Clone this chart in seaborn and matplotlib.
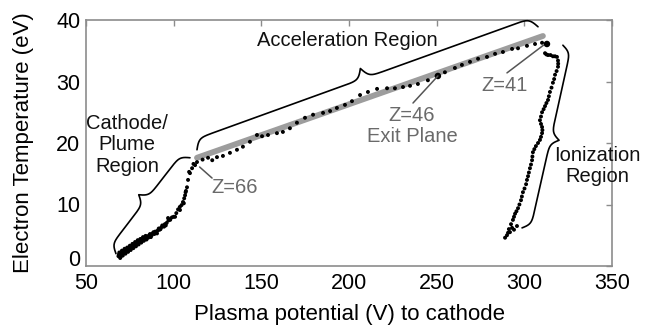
import numpy as np
import pandas as pd
import matplotlib
matplotlib.use("Agg")
import matplotlib.pyplot as plt
import seaborn as sns

# ---------------- data ----------------
cathode_v = [68.5, 69.0, 69.5, 70.0, 70.5, 71.0, 71.5, 72.0, 72.5, 73.0, 73.5, 74.0, 74.5, 75.0,
             75.5, 76.0, 76.5, 77.0, 77.5, 78.0, 78.5, 79.0, 79.5, 80.0, 80.5, 81.0, 81.5, 82.0,
             82.5, 83.0, 83.5, 84.0, 84.5, 85.0, 86.0, 87.0, 88.0, 89.0, 90.0, 91.0, 92.0, 93.0,
             94.0, 95.0, 96.0, 97.0, 98.0, 99.0, 100.0, 101.5, 102.5, 103.5, 104.5, 105.3, 106.0,
             106.5, 107.0, 107.6, 108.2, 109.3, 110.5, 112.2,
             68.8, 69.8, 70.8, 71.8, 72.8, 73.8, 74.8, 75.8, 76.8, 77.8, 78.8, 79.8, 80.8, 81.8,
             82.8, 83.8, 85.5, 86.5, 87.5, 88.5, 89.5, 90.5, 91.5, 92.5, 93.5, 94.5, 95.5, 96.8,
             100.8, 103.6, 105.8, 106.8, 108.8, 111.3]
cathode_te = [1.6, 2.2, 1.3, 1.9, 2.5, 1.7, 2.2, 2.8, 2.0, 2.5, 3.0, 2.3, 2.8, 3.3,
              2.6, 3.1, 3.6, 2.9, 3.4, 3.9, 3.2, 3.7, 4.2, 3.5, 4.0, 4.4, 3.8, 4.3,
              4.7, 4.1, 4.5, 4.9, 4.3, 4.8, 5.0, 4.7, 5.3, 5.2, 5.5, 5.8, 5.9, 6.3,
              6.5, 6.8, 7.0, 7.4, 7.5, 7.9, 8.0, 8.6, 9.2, 9.6, 9.9, 10.4, 11.0,
              11.5, 12.2, 12.8, 14.0, 15.1, 15.9, 16.4,
              1.9, 1.5, 2.1, 2.5, 2.3, 2.7, 3.0, 2.9, 3.3, 3.6, 3.5, 3.9, 4.2, 4.0,
              4.4, 4.7, 4.6, 5.2, 5.0, 5.5, 5.6, 5.3, 6.1, 6.0, 6.6, 6.4, 6.6, 7.8,
              8.0, 9.1, 10.2, 12.0, 15.3, 16.6]

accel_v = [113.3, 116.5, 119.6, 122.0, 124.7, 128.1, 132.1, 136.1, 139.5, 143.5, 147.5, 150.4,
           153.8, 158.9, 162.3, 166.3, 170.3, 174.9, 179.5, 185.2, 189.2, 193.1, 197.7, 201.7,
           206.3, 210.8, 216.0, 221.7, 226.2, 230.8, 234.8, 239.3, 245.0, 250.7, 254.7, 260.4,
           264.4, 269.0, 273.6, 278.7, 283.3, 287.8, 293.0, 296.4, 301.5, 306.1, 310.1, 312.9]
accel_te = [16.9, 17.3, 17.6, 17.2, 17.7, 17.9, 18.4, 18.9, 19.4, 20.2, 21.3, 21.1,
            21.3, 21.6, 21.8, 22.4, 23.3, 24.1, 24.6, 24.9, 25.2, 25.7, 26.2, 26.8,
            27.8, 28.3, 28.8, 28.9, 28.9, 29.1, 29.3, 29.6, 30.2, 30.9, 31.5, 32.2,
            32.7, 33.2, 33.7, 34.0, 34.5, 34.8, 35.3, 35.4, 35.8, 36.1, 36.3, 36.1]

ion_v = [311.8, 312.6, 313.5, 314.9, 316.3, 317.5, 318.6, 319.2, 319.3, 319.2, 318.4, 317.5,
         317.0, 316.3, 315.5, 314.6, 314.0, 313.5, 312.6, 311.8, 311.0, 310.1, 309.5, 308.9,
         309.5, 310.1, 310.3, 310.1, 309.5, 308.9, 307.8, 306.6, 305.7, 304.9, 304.6, 304.4,
         303.8, 303.2, 302.6, 302.1, 301.5, 301.0, 300.1, 299.2, 298.6, 298.1, 297.2, 296.4,
         295.5, 294.7, 294.1, 293.5, 295.8, 293.0, 291.8, 290.1, 289.0, 290.7, 294.1, 292.4,
         291.2]
ion_te = [34.6, 34.4, 34.3, 34.3, 34.1, 34.1, 34.0, 33.4, 32.9, 32.4, 31.7, 31.1,
          30.4, 29.8, 29.0, 28.3, 27.6, 27.0, 26.5, 26.0, 25.5, 25.0, 24.3, 23.7,
          23.1, 22.6, 22.1, 21.6, 21.0, 20.5, 20.0, 19.5, 19.0, 18.5, 17.8, 17.2,
          16.5, 15.9, 15.2, 14.6, 14.0, 13.3, 12.6, 12.0, 11.3, 10.7, 10.0, 9.4,
          8.9, 8.5, 8.0, 7.5, 6.5, 6.2, 5.5, 5.0, 4.6, 5.4, 5.9, 6.8,
          6.0]

# highlighted axial positions
z_labels = ["Z=66", "Z=46", "Z=41"]
z_v = [113.3, 250.7, 312.9]
z_te = [16.4, 30.9, 36.1]

# linear fit through acceleration region (grey band)
fit_v = [113.3, 310.6]
fit_te = [17.6, 37.4]

x_ticks = [50, 100, 150, 200, 250, 300, 350]
y_ticks = [0, 10, 20, 30, 40]

# ---------------- figure ----------------
sns.set_theme(style="white")
plt.rcParams['font.family'] = ['Liberation Sans', 'DejaVu Sans']

fig = plt.figure(figsize=(6.45, 3.35), dpi=100)
ax = fig.add_axes([86 / 645, 69 / 335, 526 / 645, 246 / 335])

dots = pd.DataFrame({
    "v": cathode_v + accel_v + ion_v,
    "te": cathode_te + accel_te + ion_te,
})

sns.lineplot(x=fit_v, y=fit_te, ax=ax, color="#9d9d9d", linewidth=4.2, sort=False,
             zorder=1, legend=False)
sns.scatterplot(data=dots, x="v", y="te", ax=ax, color="black", s=8, linewidth=0,
                edgecolor="none", zorder=3, legend=False)
sns.scatterplot(x=z_v[1:], y=z_te[1:], ax=ax, color="black", s=22, linewidth=0,
                edgecolor="none", zorder=4, legend=False)

ax.set_xlim(50, 350)
ax.set_ylim(0, 40)
ax.set_xticks(x_ticks)
ax.set_yticks(y_ticks)
ax.set_xticklabels([str(t) for t in x_ticks])
ax.set_yticklabels([str(t) for t in y_ticks])

for s in ax.spines.values():
    s.set_color("#8c8c8c")
    s.set_linewidth(1.2)
ax.tick_params(direction="in", length=4, width=1, color="#8c8c8c", top=True, right=True,
               labelsize=15.5, labelcolor="black", pad=4)
ax.tick_params(axis="x", pad=5)
ax.get_yticklabels()[0].set_verticalalignment("baseline")
ax.set_xlabel("Plasma potential (V) to cathode", fontsize=16, color="black", labelpad=7)
ax.set_ylabel("Electron Temperature (eV)", fontsize=16, color="black", labelpad=16)


def brace(p1, p2, h, beta=0.35, **kw):
    a = ax.transData.transform(p1)
    b = ax.transData.transform(p2)
    d = b - a
    L = np.hypot(*d)
    t = d / L
    n = np.array([-t[1], t[0]])
    u = np.linspace(0, L / 2, 300)
    half = 1 / (1 + np.exp(-beta * u)) + 1 / (1 + np.exp(-beta * (u - L / 2))) - 0.5
    uu = np.concatenate([u, L - u[::-1][1:]])
    vv = np.concatenate([half, half[::-1][1:]]) * h
    pts = a + np.outer(uu, t) + np.outer(vv, n)
    dp = ax.transData.inverted().transform(pts)
    ax.plot(dp[:, 0], dp[:, 1], clip_on=False, **kw)


bk = dict(color="black", linewidth=1.2, zorder=5)
brace((113.3, 18.9), (307.8, 38.9), 21, **bk)      # acceleration
brace((67.1, 2.0), (109.3, 17.6), 18, **bk)        # cathode / plume
brace((322.0, 35.9), (298.7, 6.2), 17, **bk)       # ionization

txt = dict(fontsize=14.5, ha="center", va="center")
ax.text(198.9, 36.7, "Acceleration Region", color="#111111", **txt)
ax.text(73.4, 19.7, "Cathode/\nPlume\nRegion", color="#111111", linespacing=1.15, **txt)
ax.text(341.7, 16.2, "Ionization\nRegion", color="#111111", linespacing=1.15, clip_on=False, **txt)

gray = "#6a6a6a"
ax.text(135.0, 12.8, z_labels[0], color=gray, **txt)
ax.text(235.9, 22.8, z_labels[1] + "\nExit Plane", color=gray, linespacing=1.15, **txt)
ax.text(288.9, 29.4, z_labels[2], color=gray, **txt)

ln = dict(color="#555555", linewidth=1.1, zorder=5)
ax.plot([121.9, z_v[0] + 1.5], [14.3, z_te[0] - 0.3], **ln)
ax.plot([236.5, z_v[1]], [26.5, z_te[1]], **ln)
ax.plot([290.1, z_v[2] - 2.0], [31.4, z_te[2] - 0.2], **ln)

fig.savefig("out.png", dpi=100)
